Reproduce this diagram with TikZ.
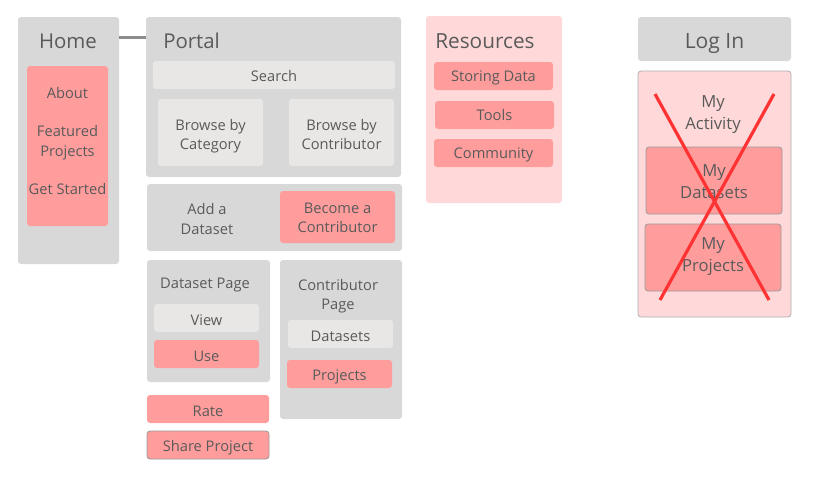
\documentclass[tikz,border=0pt]{standalone}
\usepackage{fontspec}
\setmainfont{Open Sans}
\usetikzlibrary{calc}
\definecolor{txt}{HTML}{5A5A5A}
\definecolor{grayb}{HTML}{D8D8D8}
\definecolor{lightb}{HTML}{E8E7E5}
\definecolor{pinkb}{HTML}{FF9D9D}
\definecolor{palepink}{HTML}{FFD9D9}
\definecolor{edgeg}{HTML}{9A9A9A}
\definecolor{xred}{HTML}{FF3333}
\definecolor{connc}{HTML}{8C8C8C}
% box node #1 from (#2,#3) to (#4,#5), box style #6, text style #7, text offset #8 (px, down), text #9
\newcommand\bx[9]{%
  \node[#6, minimum width={(#4-#2)*0.75pt}, minimum height={(#5-#3)*0.75pt}] (#1) at ({(#2+#4)/2},{(#3+#5)/2}) {};
  \node[label, #7] (#1-t) at ($(#1.center)+(0,#8)$) {#9};}
\tikzset{
  base/.style={rectangle, rounded corners=2.25pt, inner sep=0pt},
  label/.style={inner sep=0pt, align=center, text=txt, font=\fontsize{11}{14.5}\selectfont},
  graybox/.style={base, fill=grayb},
  lightbox/.style={base, fill=lightb},
  pinkbox/.style={base, fill=pinkb},
  pinkedge/.style={base, fill=pinkb, draw=edgeg, line width=0.6pt},
  palebox/.style={base, fill=palepink},
  paleedge/.style={base, fill=palepink, draw=edgeg!80, line width=0.6pt},
  title/.style={label, font=\fontsize{15.3}{18}\selectfont},
  big/.style={font=\fontsize{12.5}{16.5}\selectfont},
  conn/.style={draw=connc, line width=2.2pt},
  cross/.style={draw=xred, line width=2.4pt},
}
\begin{document}
\begin{tikzpicture}[x=0.75pt, y=-0.75pt]
\useasboundingbox (0,0) rectangle (814,494);
% Home
\bx{home}{18}{17}{119}{264}{graybox}{}{0}{}
\node[title] (hometitle) at (68,41) {Home};
\bx{homelinks}{27}{66}{108}{226}{pinkbox}{}{-5}{About\\[14pt]Featured\\Projects\\[14pt]Get Started}
% Portal
\bx{portal}{146}{17}{401}{177}{graybox}{}{0}{}
\node[title, anchor=west] (portaltitle) at (163,41) {Portal};
\bx{search}{153}{61}{395}{89}{lightbox}{}{1}{Search}
\bx{bycat}{158}{99}{263}{166}{lightbox}{}{4}{Browse by\\Category}
\bx{bycon}{289}{99}{394}{166}{lightbox}{}{2}{Browse by\\Contributor}
\draw[conn] ($(home.north east)+(0,21)$) -- ($(portal.north west)+(0,21)$);
% Add a dataset
\bx{addds}{147}{184}{402}{251}{graybox}{}{0}{}
\node[label] (addtext) at (207,219) {Add a\\Dataset};
\bx{become}{280}{191}{395}{243}{pinkbox}{}{1}{Become a\\Contributor}
% Dataset page
\bx{dspage}{147}{260}{270}{382}{graybox}{}{0}{}
\node[label] (dstitle) at (205,285) {Dataset Page};
\bx{view}{154}{304}{259}{332}{lightbox}{}{2}{View}
\bx{use}{154}{340}{259}{368}{pinkbox}{}{2}{Use}
% Contributor page
\bx{cpage}{280}{260}{402}{419}{graybox}{}{0}{}
\node[label] (ctitle) at (338,296.5) {Contributor\\Page};
\bx{cdatasets}{288}{320}{393}{348}{lightbox}{}{2}{Datasets}
\bx{cprojects}{287}{360}{392}{388}{pinkbox}{}{3}{Projects}
% Rate & share
\bx{rate}{147}{395}{269}{423}{pinkbox}{}{2}{Rate}
\bx{share}{147}{431}{269}{459}{pinkedge}{}{3}{Share Project}
% Resources
\bx{resources}{426}{16}{562}{203}{palebox}{}{0}{}
\node[title, anchor=west, font=\fontsize{15.6}{18}\selectfont] (restitle) at (435,41) {Resources};
\bx{storing}{434}{62}{553}{90}{pinkbox}{}{2}{Storing Data}
\bx{tools}{435}{101}{554}{129}{pinkbox}{}{0}{Tools}
\bx{community}{434}{139}{553}{167}{pinkbox}{}{2}{Community}
% Log in
\bx{login}{638}{17}{791}{61}{graybox}{font=\fontsize{15.8}{18}\selectfont}{5}{Log In}
\bx{panel}{638}{71}{791}{317}{paleedge}{}{0}{}
\node[label, big] (activity) at (713,115) {My\\Activity};
\bx{mydatasets}{646}{147}{782}{214}{pinkedge}{big}{1}{My\\Datasets}
\bx{myprojects}{645}{224}{781}{291}{pinkedge}{big}{-1}{My\\Projects}
\coordinate (xa) at (655,94);
\coordinate (xb) at (769,300);
\coordinate (xc) at (774,94);
\coordinate (xd) at (660,300);
\draw[cross] (xa) -- (xb);
\draw[cross] (xc) -- (xd);
\end{tikzpicture}
\end{document}
